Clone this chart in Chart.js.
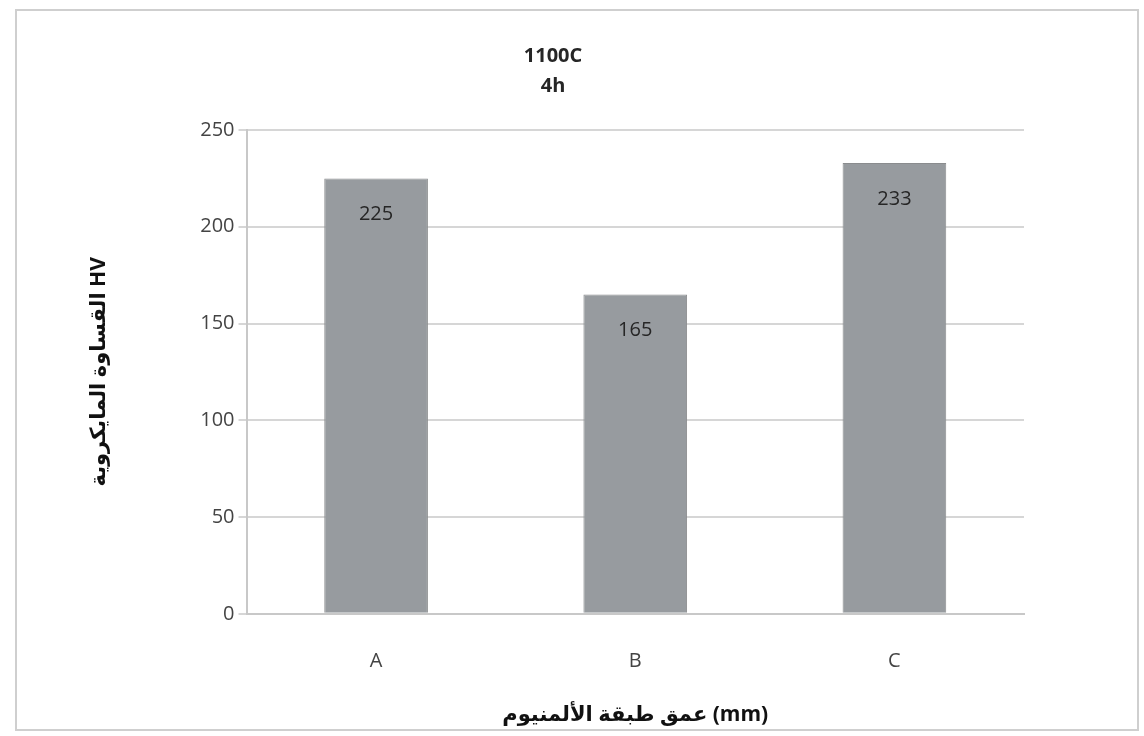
<!DOCTYPE html>
<html>
<head>
<meta charset="utf-8">
<script src="https://cdn.jsdelivr.net/npm/chart.js@4"></script>
<style>
  html, body { margin: 0; padding: 0; background: #fff; }
  .frame {
    position: absolute; left: 15px; top: 9px; width: 1124px; height: 722px;
    border: 2px solid #cfcfcf; box-sizing: border-box;
  }
  #chart { position: absolute; left: 0; top: 0; }
</style>
</head>
<body>
<div class="frame"></div>
<canvas id="chart" width="1144" height="736"></canvas>
<script>
const categories = ['A', 'B', 'C'];
const hardness = [225, 165, 233];
const titleLines = ['1100C', '4h'];
const yTitle = 'القساوة المايكروية HV';
const xTitle = 'عمق طبقة الألمنيوم (mm)';

const fontFamily = "'Open Sans', 'DejaVu Sans', sans-serif";

// value written inside the top of each bar
const barLabels = {
    id: 'barLabels',
    afterDatasetsDraw(chart) {
        const ctx = chart.ctx;
        const meta = chart.getDatasetMeta(0);
        ctx.save();
        ctx.font = '20px ' + fontFamily;
        ctx.fillStyle = '#262626';
        ctx.textAlign = 'center';
        ctx.textBaseline = 'middle';
        meta.data.forEach((bar, i) => {
            ctx.fillText(String(hardness[i]), bar.x, bar.y + 36);
        });
        ctx.restore();
    }
};

new Chart(document.getElementById('chart'), {
    type: 'bar',
    data: {
        labels: categories,
        datasets: [{
            data: hardness,
            backgroundColor: '#979b9f',
            borderColor: '#8a8c8e',
            borderWidth: 1,
            barPercentage: 0.4,
            categoryPercentage: 1.0
        }]
    },
    options: {
        responsive: false,
        animation: false,
        layout: { padding: { left: 82, right: 120, top: 20, bottom: 0 } },
        plugins: {
            legend: { display: false },
            tooltip: { enabled: false },
            title: {
                display: true,
                text: titleLines,
                color: '#262626',
                font: { family: fontFamily, size: 20, weight: 'bold', lineHeight: 1.5 },
                padding: { top: 21, bottom: 29 }
            }
        },
        scales: {
            x: {
                grid: { display: false, drawOnChartArea: false },
                border: { color: '#c8c8c8', width: 2 },
                ticks: {
                    color: '#444',
                    font: { family: fontFamily, size: 20 },
                    padding: 27
                },
                title: {
                    display: true,
                    text: xTitle,
                    color: '#111',
                    font: { family: fontFamily, size: 21, weight: 'bold' },
                    padding: { top: 3, bottom: 8 }
                }
            },
            y: {
                min: 0,
                max: 250,
                ticks: {
                    stepSize: 50,
                    color: '#444',
                    font: { family: fontFamily, size: 20 },
                    padding: 4
                },
                grid: { color: '#d6d6d6', lineWidth: 2, tickLength: 8 },
                border: { color: '#c8c8c8', width: 2 },
                title: {
                    display: true,
                    text: yTitle,
                    color: '#111',
                    font: { family: fontFamily, size: 21, weight: 'bold' },
                    padding: { top: 4, bottom: 85 }
                }
            }
        }
    },
    plugins: [barLabels]
});
</script>
</body>
</html>
